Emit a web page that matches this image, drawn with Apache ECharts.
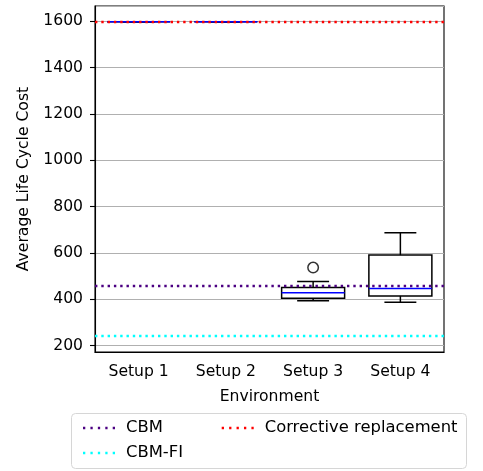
<!DOCTYPE html>
<html>
<head>
<meta charset="utf-8">
<script src="https://cdn.jsdelivr.net/npm/echarts@6/dist/echarts.min.js"></script>
<style>
  html, body { margin: 0; padding: 0; background: #fff; }
  #chart { width: 483px; height: 471px; }
</style>
</head>
<body>
<div id="chart"></div>
<script>
const categories = ['Setup 1', 'Setup 2', 'Setup 3', 'Setup 4']
// [low whisker, q1, median, q3, high whisker]
const boxValues = [
  [1597, 1597, 1597, 1597, 1597],
  [1597, 1597, 1597, 1597, 1597],
  [394, 405, 428, 451, 477],
  [387, 415, 447, 591, 687]
]
const outliers = [[2, 537]]
const refNames = ['CBM', 'CBM-FI', 'Corrective replacement']
const refValues = [458, 241, 1597]
const refColors = ['#4b0082', '#00ffff', '#ff0000']

const font = 'DejaVu Sans'
const fs = 15.6
const dotIcon = 'path://M0 0h2v2h-2z M6.5 0h2v2h-2z M13 0h2v2h-2z M19.5 0h2v2h-2z M26 0h2v2h-2z'

const renderBox = (params, api) => {
  const x = api.value(0)
  const bw = api.size([1, 0])[0]
  const half = bw * 0.361
  const cap = bw * 0.183
  const p = i => api.coord([x, api.value(i)])
  const lo = p(1), q1 = p(2), md = p(3), q3 = p(4), hi = p(5)
  const cx = lo[0]
  const ls = { stroke: '#000', lineWidth: 1.5, fill: null }
  return {
    type: 'group',
    children: [
      { type: 'line', shape: { x1: cx, y1: q1[1], x2: cx, y2: lo[1] }, style: ls },
      { type: 'line', shape: { x1: cx, y1: q3[1], x2: cx, y2: hi[1] }, style: ls },
      { type: 'line', shape: { x1: cx - cap, y1: lo[1], x2: cx + cap, y2: lo[1] }, style: ls },
      { type: 'line', shape: { x1: cx - cap, y1: hi[1], x2: cx + cap, y2: hi[1] }, style: ls },
      { type: 'rect', shape: { x: cx - half, y: q3[1], width: half * 2, height: q1[1] - q3[1] }, style: ls },
      { type: 'line', shape: { x1: cx - half, y1: md[1], x2: cx + half, y2: md[1] }, style: { stroke: '#0000ff', lineWidth: 1.5 } }
    ]
  }
}

const refSeries = refNames.map((name, i) => ({
  name: name,
  type: 'line',
  data: [],
  itemStyle: { color: refColors[i] },
  z: 5,
  markLine: {
    silent: true,
    symbol: ['none', 'none'],
    label: { show: false },
    emphasis: { disabled: true },
    lineStyle: { color: refColors[i], width: 2.4, type: [2.4, 3.9], cap: 'butt' },
    data: [{ yAxis: refValues[i] }]
  }
}))

const chart = echarts.init(document.getElementById('chart'), null, { renderer: 'canvas' })
const legendBase = {
  orient: 'vertical',
  icon: dotIcon,
  itemWidth: 32,
  itemHeight: 2.5,
  itemGap: 9,
  selectedMode: false,
  textStyle: { fontFamily: font, fontSize: 16.4, color: '#000', padding: [0, 0, 0, 6] }
}
chart.setOption({
  animation: false,
  grid: { left: 95, right: 39, top: 6, bottom: 119, show: true, borderColor: '#000', borderWidth: 1.1, backgroundColor: 'transparent' },
  legend: [
    Object.assign({}, legendBase, { left: 78, top: 415, data: ['CBM', 'CBM-FI'] }),
    Object.assign({}, legendBase, { left: 216.7, top: 415, data: ['Corrective replacement'] })
  ],
  graphic: [{
    type: 'rect',
    shape: { x: 71.5, y: 413.5, width: 395, height: 55, r: 4 },
    style: { fill: null, stroke: '#d6d6d6', lineWidth: 1 },
    z: -1
  }],
  xAxis: {
    type: 'category',
    data: categories,
    name: 'Environment',
    nameLocation: 'middle',
    nameGap: 37,
    nameTextStyle: { fontFamily: font, fontSize: fs, color: '#000' },
    axisLine: { lineStyle: { color: '#000', width: 1.1 } },
    axisTick: { alignWithLabel: true, length: 5, lineStyle: { color: '#000', width: 1.1 } },
    axisLabel: { fontFamily: font, fontSize: fs, color: '#000', margin: 12 },
    splitLine: { show: false }
  },
  yAxis: {
    type: 'value',
    min: 173,
    max: 1665,
    splitNumber: 7,
    minInterval: 200,
    maxInterval: 200,
    name: 'Average Life Cycle Cost',
    nameLocation: 'middle',
    nameGap: 57,
    nameTextStyle: { fontFamily: font, fontSize: fs, color: '#000' },
    axisLine: { show: true, lineStyle: { color: '#000', width: 1.1 } },
    axisTick: { show: true, length: 5, lineStyle: { color: '#000', width: 1.1 } },
    axisLabel: { fontFamily: font, fontSize: fs, color: '#000', margin: 12, showMinLabel: false, showMaxLabel: false, formatter: v => String(v) },
    splitLine: { show: true, lineStyle: { color: '#b0b0b0', width: 1 } }
  },
  series: [
    {
      type: 'custom',
      renderItem: renderBox,
      data: boxValues.map((v, i) => [i].concat(v)),
      encode: { x: 0, y: [1, 2, 3, 4, 5] },
      z: 3
    },
    {
      type: 'scatter',
      data: outliers,
      symbol: 'circle',
      symbolSize: 10.5,
      itemStyle: { color: 'rgba(0,0,0,0)', borderColor: '#000', borderWidth: 1.5 },
      z: 3
    }
  ].concat(refSeries)
})
</script>
</body>
</html>
